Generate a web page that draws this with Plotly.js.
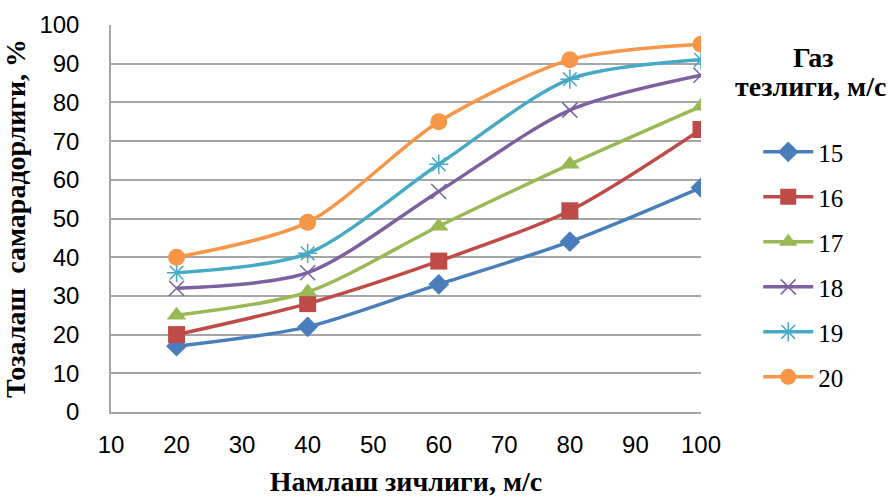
<!DOCTYPE html>
<html><head><meta charset="utf-8">
<script src="https://cdn.plot.ly/plotly-3.0.1.min.js"></script>
<style>body{margin:0;background:#fff}#c{width:894px;height:497px}</style>
</head><body><div id="c"></div>
<script>
const xVals = [20, 40, 60, 80, 100];
const seriesNames = ['15', '16', '17', '18', '19', '20'];
const s15 = [17, 22, 33, 44, 58];
const s16 = [20, 28, 39, 52, 73];
const s17 = [25, 31, 48, 64, 79];
const s18 = [32, 36, 57, 78, 87];
const s19 = [36, 41, 64, 86, 91];
const s20 = [40, 49, 75, 91, 95];
const allSeries = [s15, s16, s17, s18, s19, s20];
const colors = ['#4a7ebb', '#be4b48', '#98b954', '#7d60a0', '#46aac5', '#f79646'];
const symbols = ['diamond', 'square', 'triangle-up', 'x-thin-open', 'asterisk-open', 'circle'];
const sizes = [16, 17, 17, 15, 16, 17];
const SERIF = "'Liberation Serif', 'Times New Roman', Times, serif";
const SANS = "'Liberation Sans', Arial, sans-serif";

const traces = allSeries.map((s, i) => ({
  x: xVals, y: s, name: seriesNames[i], type: 'scatter', mode: 'lines+markers',
  legendgroup: 'g' + i,
  line: {color: colors[i], width: 3.5, shape: 'spline', smoothing: 0.8},
  marker: {symbol: symbols[i], size: sizes[i], color: colors[i], line: {color: colors[i], width: (i === 3 || i === 4) ? 1.5 : 0}}
}));

const layout = {
  width: 894, height: 497,
  margin: {l: 111, r: 193, t: 25, b: 85},
  paper_bgcolor: '#fff', plot_bgcolor: '#fff',
  showlegend: true,
  legend: {
    x: 1.097, xanchor: 'left', y: 0.731, yanchor: 'top',
    tracegroupgap: 9.5, itemwidth: 50,
    font: {family: SERIF, size: 25, color: '#000'}
  },
  annotations: [
    {text: '<b>Газ</b>', xref: 'paper', yref: 'paper', x: 1.19, y: 0.917, xanchor: 'center', yanchor: 'middle', showarrow: false,
     font: {family: SERIF, size: 28, color: '#000'}},
    {text: '<b>тезлиги, м/с</b>', xref: 'paper', yref: 'paper', x: 1.186, y: 0.84, xanchor: 'center', yanchor: 'middle', showarrow: false,
     font: {family: SERIF, size: 28, color: '#000'}}
  ],
  xaxis: {
    range: [10, 100], dtick: 10, tick0: 10,
    showgrid: false, zeroline: false,
    showline: true, linecolor: '#a6a6a6', linewidth: 1.5,
    ticks: '', ticklabelstandoff: 10,
    tickfont: {family: SANS, size: 24, color: '#000'},
    title: {text: '<b>Намлаш зичлиги, м/с</b>', font: {family: SERIF, size: 28, color: '#000'}, standoff: 17}
  },
  yaxis: {
    range: [0, 100], dtick: 10,
    showgrid: true, gridcolor: '#a6a6a6', gridwidth: 1.5, zeroline: false,
    showline: true, linecolor: '#a6a6a6', linewidth: 1.5,
    ticks: '', ticklabelstandoff: 25,
    tickfont: {family: SANS, size: 24, color: '#000'},
    title: {text: '<b>Тозалаш  самарадорлиги, %</b>', font: {family: SERIF, size: 28, color: '#000'}, standoff: 12}
  }
};
Plotly.newPlot('c', traces, layout, {displayModeBar: false});
</script></body></html>
